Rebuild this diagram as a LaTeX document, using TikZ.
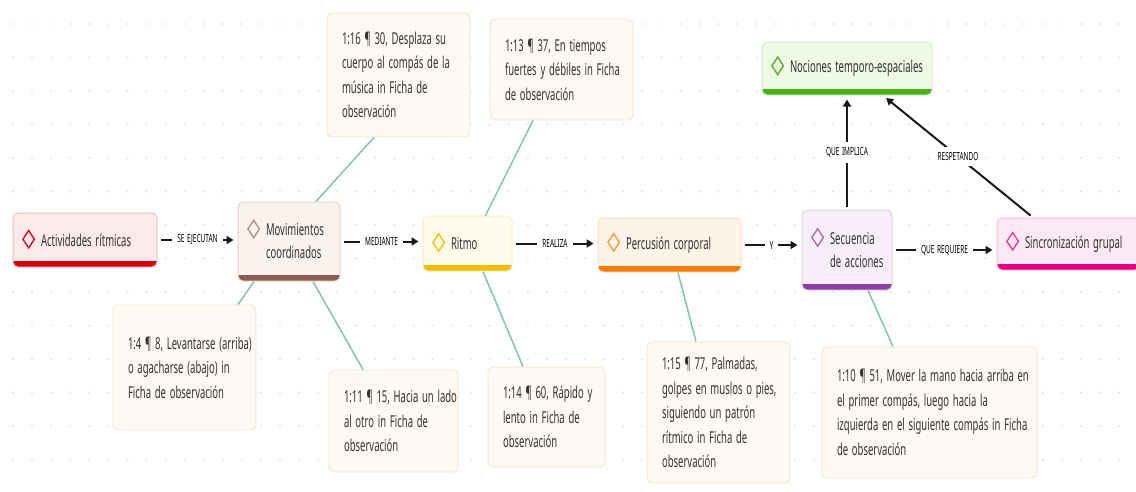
\documentclass[tikz,border=0pt]{standalone}
\usepackage{fontspec}
\setmainfont{Noto Sans}[FakeStretch=0.58,WordSpace=1.5]
\usepackage{xcolor}
\usetikzlibrary{positioning,shapes.geometric,arrows.meta}
\definecolor{texto}{HTML}{333333}
\definecolor{puntos}{HTML}{E2E2E2}
\definecolor{verderama}{HTML}{7FC6B2}
\definecolor{rojo}{HTML}{D7000F}
\definecolor{rojoclaro}{HTML}{FCE9EB}
\definecolor{cafe}{HTML}{8D5E4E}
\definecolor{cafeclaro}{HTML}{FAF2EC}
\definecolor{amarillo}{HTML}{F5BD00}
\definecolor{amarilloclaro}{HTML}{FFFBEA}
\definecolor{naranja}{HTML}{F57C00}
\definecolor{naranjaclaro}{HTML}{FEF3E9}
\definecolor{morado}{HTML}{8E3EA8}
\definecolor{moradoclaro}{HTML}{F7EEFA}
\definecolor{magenta}{HTML}{E6007E}
\definecolor{magentaclaro}{HTML}{FDE9F3}
\definecolor{verde}{HTML}{4CAF1A}
\definecolor{verdeclaro}{HTML}{EEFAE5}
\definecolor{notafondo}{HTML}{FDF9F4}
\definecolor{notaborde}{HTML}{F5E1C8}

\begin{document}
\begin{tikzpicture}[x=1pt,y=-1pt]
\tikzset{
  concepto/.style={
    rectangle, rounded corners=5pt, draw=#1!25, line width=1pt,
    inner xsep=9pt, align=left, text=texto,
    font=\fontsize{16.4}{23}\selectfont,
    execute at begin node={\spaceskip=0pt\xspaceskip=0pt\leftskip=19pt\rightskip=-30pt plus 1fil},
    path picture={\fill[#1, sharp corners] (path picture bounding box.south west)
      rectangle ([yshift=6pt]path picture bounding box.south east);},
  },
  rombo/.style={diamond, draw=#1, line width=1.3pt, minimum width=12pt,
    minimum height=18pt, inner sep=0pt},
  nota/.style={
    rectangle, rounded corners=5pt, draw=notaborde, fill=notafondo,
    line width=0.8pt, inner xsep=0pt, inner ysep=4pt, align=left, text=texto,
    font=\fontsize{16.4}{24.5}\selectfont,
    execute at begin node={\spaceskip=0pt\xspaceskip=0pt\leftskip=15pt\rightskip=-30pt plus 1fil},
  },
  rama/.style={draw=verderama, line width=1.5pt},
  flecha/.style={draw=black!90, line width=2pt, -{Triangle[length=7pt,width=8pt]},
    shorten <=3pt, shorten >=4pt},
  etiqueta/.style={fill=white, inner sep=5pt, text=black,
    font=\fontsize{11.2}{13}\selectfont},
}
\useasboundingbox (0,0) rectangle (1136,491);
\fill[white] (0,0) rectangle (1136,491);
% dotted background
\foreach \i in {0,...,59}
  \foreach \j in {0,...,14}
    \fill[puntos] ({13+19.07*\i},{24+33.5*\j}) circle (1.1pt);

% main concepts
\node[concepto=rojo, fill=rojoclaro, text width=126pt, minimum height=54pt] (act) at (85,240) {Actividades rítmicas};
\node[concepto=cafe, fill=cafeclaro, text width=84pt, minimum height=79pt] (mov) at (289,241.5) {Movimientos\\coordinados};
\node[concepto=amarillo, fill=amarilloclaro, text width=71pt, minimum height=55pt] (rit) at (467.5,243.5) {Ritmo};
\node[concepto=naranja, fill=naranjaclaro, text width=125pt, minimum height=54pt] (per) at (669.5,245) {Percusión corporal};
\node[concepto=morado, fill=moradoclaro, text width=72pt, minimum height=80pt] (sec) at (847,250) {Secuencia\\de acciones};
\node[concepto=magenta, fill=magentaclaro, text width=125pt, minimum height=52pt] (sin) at (1068.5,244) {Sincronización grupal};
\node[concepto=verde, fill=verdeclaro, text width=152pt, minimum height=53pt] (noc) at (847,68.5) {Nociones temporo-espaciales};

% icons
\node[rombo=rojo, right=0pt of act.text, yshift=7pt] (iact) {};
\node[rombo=cafe!70, right=0pt of mov.text, yshift=7pt] (imov) {};
\node[rombo=amarillo, right=0pt of rit.text, yshift=7pt] (irit) {};
\node[rombo=naranja!80, right=0pt of per.text, yshift=7pt] (iper) {};
\node[rombo=morado!80, right=0pt of sec.text, yshift=7pt] (isec) {};
\node[rombo=magenta!80, right=0pt of sin.text, yshift=7pt] (isin) {};
\node[rombo=verde, right=0pt of noc.text, yshift=7pt] (inoc) {};

% quotations
\node[nota, text width=143pt, minimum height=124pt] (n1) at (398.5,75) {1:16 ¶ 30, Desplaza su\\cuerpo al compás de la\\música in Ficha de\\observación};
\node[nota, text width=143pt, minimum height=101pt] (n2) at (561.5,69.5) {1:13 ¶ 37, En tiempos\\fuertes y débiles in Ficha\\de observación};
\node[nota, text width=143pt, minimum height=125pt] (n3) at (184.5,367.5) {1:4 ¶ 8, Levantarse (arriba)\\o agacharse (abajo) in\\Ficha de observación};
\node[nota, text width=129pt, minimum height=102pt] (n4) at (393.5,421) {1:11 ¶ 15, Hacia un lado\\al otro in Ficha de\\observación};
\node[nota, text width=117pt, minimum height=100pt] (n5) at (546.5,417) {1:14 ¶ 60, Rápido y\\lento in Ficha de\\observación};
\node[nota, text width=143pt, minimum height=141pt] (n6) at (718.5,412.5) {1:15 ¶ 77, Palmadas,\\golpes en muslos o pies,\\siguiendo un patrón\\rítmico in Ficha de\\observación};
\node[nota, text width=215pt, minimum height=131pt] (n7) at (929.5,412.5) {1:10 ¶ 51, Mover la mano hacia arriba en\\el primer compás, luego hacia la\\izquierda en el siguiente compás in Ficha\\de observación};

% links to quotations
\draw[rama] ([xshift=-24.5pt]n1.south) -- ([xshift=27pt]mov.north);
\draw[rama] ([xshift=-28.5pt]n2.south) -- ([xshift=18pt]rit.north);
\draw[rama] ([xshift=-35pt]mov.south) -- ([xshift=53.5pt]n3.north);
\draw[rama] ([xshift=24pt]mov.south) -- ([xshift=-30.5pt]n4.north);
\draw[rama] ([xshift=15.5pt]rit.south) -- ([xshift=-23.5pt]n5.north);
\draw[rama] ([xshift=8.5pt]per.south) -- ([xshift=-22.5pt]n6.north);
\draw[rama] ([xshift=21pt]sec.south) -- ([xshift=-36.5pt]n7.north);

% relations
\draw[flecha] (act.east) -- node[etiqueta]{SE EJECUTAN} (act.east -| mov.west);
\draw[flecha] (mov.east) -- node[etiqueta]{MEDIANTE} (mov.east -| rit.west);
\draw[flecha] (rit.east) -- node[etiqueta]{REALIZA} (rit.east -| per.west);
\draw[flecha] (per.east) -- node[etiqueta]{Y} (per.east -| sec.west);
\draw[flecha] (sec.east) -- node[etiqueta]{QUE REQUIERE} (sec.east -| sin.west);
\draw[flecha] (sec.north) -- node[etiqueta]{QUE IMPLICA} (noc.south);
\draw[flecha] ([xshift=-35.5pt]sin.north) -- node[etiqueta]{RESPETANDO} ([xshift=36pt]noc.south);
\end{tikzpicture}
\end{document}
